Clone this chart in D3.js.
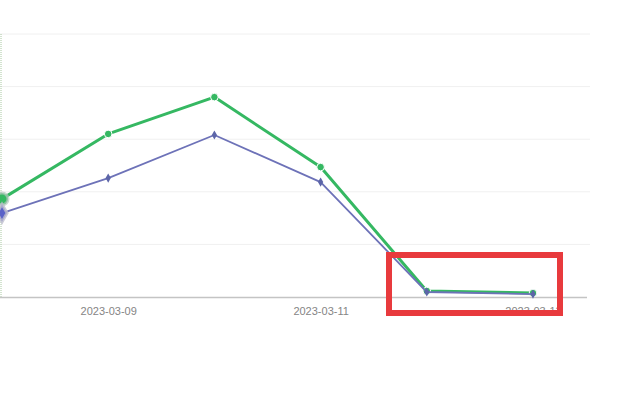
<!DOCTYPE html>
<html>
<head>
<meta charset="utf-8">
<script src="https://cdn.jsdelivr.net/npm/d3@7/dist/d3.min.js"></script>
<style>
  html, body { margin: 0; padding: 0; background: #fff; }
  svg { display: block; }
</style>
</head>
<body>
<div id="chart"></div>
<script>
// ── Datos ────────────────────────────────────────────────────────
const DATES = ["2023-03-08", "2023-03-09", "2023-03-10", "2023-03-11", "2023-03-12", "2023-03-13"];
const GREEN_VALUES = [37.3, 62.0, 76.0, 49.4, 2.3, 1.5];
const PURPLE_VALUES = [31.9, 45.2, 61.6, 43.7, 1.9, 1.1];
const Y_TICKS = [0, 20, 40, 60, 80, 100];
const LABEL_DATES = ["2023-03-09", "2023-03-11", "2023-03-13"];

// ── Escalas ──────────────────────────────────────────────────────
const W = 638, H = 398;
const svg = d3.select("#chart").append("svg")
  .attr("width", W).attr("height", H);

const x = d3.scalePoint().domain(DATES).range([2, 533]);
const y = d3.scaleLinear().domain([0, 100]).range([297, 34]);

// ── Rejilla ──────────────────────────────────────────────────────
svg.append("g").selectAll("line")
  .data(Y_TICKS.filter(t => t > 0))
  .join("line")
  .attr("x1", 0).attr("x2", 590)
  .attr("y1", d => y(d)).attr("y2", d => y(d))
  .attr("stroke", "#f0f0f0").attr("stroke-width", 1);

// eje vertical punteado a la izquierda
svg.append("line")
  .attr("x1", 1).attr("x2", 1)
  .attr("y1", y(100)).attr("y2", y(0))
  .attr("stroke", "#a8c8a0").attr("stroke-width", 1)
  .attr("stroke-dasharray", "1,1");

// línea base
svg.append("line")
  .attr("x1", 0).attr("x2", 587)
  .attr("y1", y(0) + 0.5).attr("y2", y(0) + 0.5)
  .attr("stroke", "#c4c4c4").attr("stroke-width", 1.5);

// ── Eje X ────────────────────────────────────────────────────────
const xAxis = svg.append("g")
  .attr("transform", `translate(0,${y(0) + 8})`)
  .call(d3.axisBottom(x).tickValues(LABEL_DATES).tickSize(0).tickPadding(2));
xAxis.select(".domain").remove();
xAxis.selectAll("text")
  .attr("fill", "#858585")
  .attr("font-size", 11)
  .attr("font-family", "Liberation Sans, Arial, sans-serif");

// ── Series ───────────────────────────────────────────────────────
const line = d3.line().x((d, i) => x(DATES[i])).y(d => y(d));

svg.append("path")
  .datum(GREEN_VALUES)
  .attr("d", line)
  .attr("fill", "none")
  .attr("stroke", "#35b862").attr("stroke-width", 3)
  .attr("stroke-linejoin", "round");

svg.append("g").selectAll("circle")
  .data(GREEN_VALUES)
  .join("circle")
  .attr("cx", (d, i) => x(DATES[i])).attr("cy", d => y(d))
  .attr("r", (d, i) => i === 0 ? 6 : 3.8)
  .attr("fill", "#35b862")
  .attr("stroke", (d, i) => i === 0 ? "rgba(180,200,190,0.7)" : "#fff")
  .attr("stroke-width", (d, i) => i === 0 ? 3 : 1);

svg.append("path")
  .datum(PURPLE_VALUES)
  .attr("d", line)
  .attr("fill", "none")
  .attr("stroke", "#6d72b8").attr("stroke-width", 1.8)
  .attr("stroke-linejoin", "round");

const diamond = d3.symbol().type(d3.symbolDiamond);
svg.append("g").selectAll("path")
  .data(PURPLE_VALUES)
  .join("path")
  .attr("transform", (d, i) => `translate(${x(DATES[i])},${y(d)})`)
  .attr("d", (d, i) => diamond.size(i === 0 ? 90 : 24)())
  .attr("fill", (d, i) => i === 0 ? "#5a62c8" : "#5c65a8")
  .attr("stroke", (d, i) => i === 0 ? "rgba(190,190,205,0.8)" : "none")
  .attr("stroke-width", 3);

// ── Recuadro rojo ────────────────────────────────────────────────
svg.append("rect")
  .attr("x", 389).attr("y", 255)
  .attr("width", 171).attr("height", 58)
  .attr("fill", "none")
  .attr("stroke", "#e83a3d").attr("stroke-width", 6);
</script>
</body>
</html>
